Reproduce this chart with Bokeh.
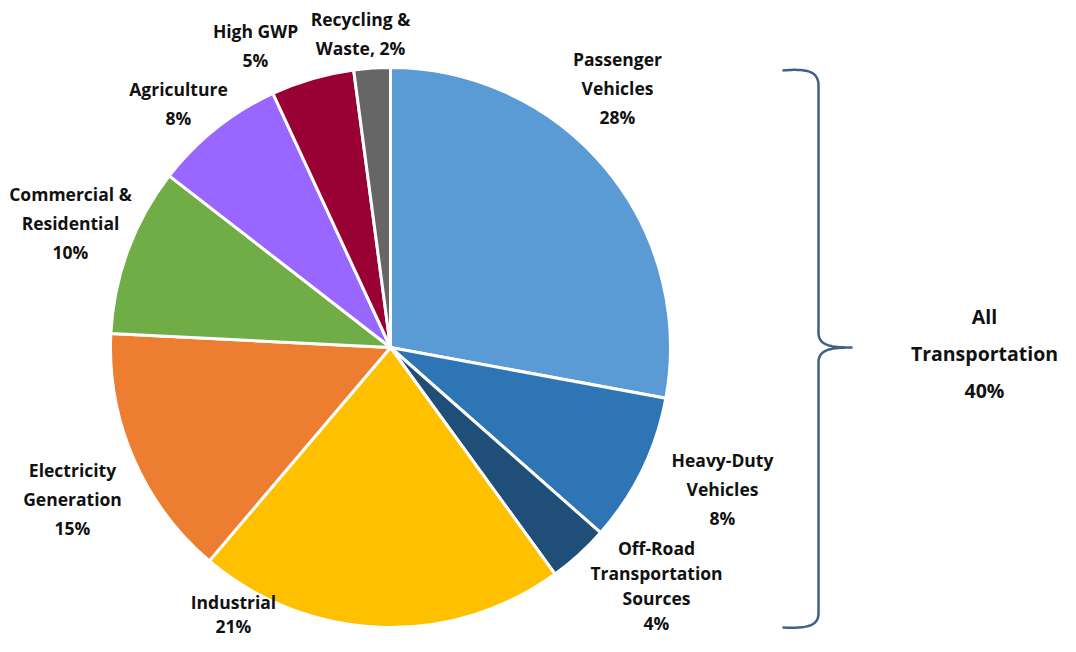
import numpy as np
from bokeh.plotting import figure
from bokeh.models import Range1d, ColumnDataSource
from bokeh.core.properties import value
from bokeh.embed import file_html
from bokeh.resources import INLINE

# ---- data ----
categories = ["Passenger Vehicles", "Heavy-Duty Vehicles", "Off-Road Transportation Sources",
              "Industrial", "Electricity Generation", "Commercial & Residential",
              "Agriculture", "High GWP", "Recycling & Waste"]
shares = [27.9, 8.6, 3.5, 21.2, 14.6, 9.7, 7.6, 4.8, 2.1]
label_texts = ["Passenger\nVehicles\n28%", "Heavy-Duty\nVehicles\n8%",
               "Off-Road\nTransportation\nSources\n4%", "Industrial\n21%",
               "Electricity\nGeneration\n15%", "Commercial &\nResidential\n10%",
               "Agriculture\n8%", "High GWP\n5%", "Recycling &\nWaste, 2%"]
group_label = "All\nTransportation\n40%"

# ---- styling / layout ----
colors = ["#5B9BD5", "#2E75B6", "#1F4E79", "#FFC000", "#ED7D31", "#70AD47",
          "#9966FF", "#990033", "#666666"]
W, H = 1060, 636
def X(sx): return sx
def Y(sy): return H - sy

cx, cy, R = X(390), Y(347), 280
# label anchor (screen px, center of first line) and line spacing
label_pos = [(617, 58), (722, 459), (656, 547), (233, 601), (72, 469),
             (70, 193), (178, 88), (255, 30), (360, 18)]
label_gap = [29, 29, 25, 24, 29, 29, 29, 29, 29]
FONT = "Open Sans"

p = figure(width=W, height=H, x_range=Range1d(0, W), y_range=Range1d(0, H),
           output_backend="svg", toolbar_location=None,
           x_axis_type=None, y_axis_type=None, min_border=0)
p.outline_line_color = None
p.grid.visible = False

tot = float(sum(shares))
cum = np.concatenate([[0], np.cumsum(shares)]) / tot
start = np.pi / 2 - 2 * np.pi * cum[1:]
end = np.pi / 2 - 2 * np.pi * cum[:-1]
src = ColumnDataSource(dict(start=start, end=end, color=colors, cat=categories))
p.wedge(x=cx, y=cy, radius=R, start_angle="start", end_angle="end",
        fill_color="color", line_color="white", line_width=3, source=src)

# labels
tx, ty, tt = [], [], []
for (sx, sy), gap, txt in zip(label_pos, label_gap, label_texts):
    for i, line in enumerate(txt.split("\n")):
        tx.append(X(sx)); ty.append(Y(sy + i * gap)); tt.append(line)
p.text(x=tx, y=ty, text=tt, text_align="center", text_baseline="middle",
       text_font=value(FONT), text_font_style="bold", text_font_size="17.5px",
       text_color="#111111")

# group label
gx, gy, gt = [], [], []
for i, line in enumerate(group_label.split("\n")):
    gx.append(X(984)); gy.append(Y(316 + i * 37)); gt.append(line)
p.text(x=gx, y=gy, text=gt, text_align="center", text_baseline="middle",
       text_font=value(FONT), text_font_style="bold", text_font_size="19.5px",
       text_color="#111111")

# brace (decoration)
def bez(p0, p1, p2, p3, n=30):
    t = np.linspace(0, 1, n)[:, None]
    pts = ((1 - t) ** 3) * np.array(p0) + 3 * ((1 - t) ** 2) * t * np.array(p1) \
        + 3 * (1 - t) * t ** 2 * np.array(p2) + t ** 3 * np.array(p3)
    return pts
segs = [
    bez((782, 70), (805, 68), (818, 70), (818, 85)),
    np.array([(818, 85), (818, 332)]),
    bez((818, 332), (818, 345), (830, 347), (852, 347)),
    bez((852, 347), (830, 347), (818, 349), (818, 362)),
    np.array([(818, 362), (818, 613)]),
    bez((818, 613), (818, 626), (805, 628), (782, 627)),
]
pts = np.vstack(segs)
p.line(x=[X(a) for a in pts[:, 0]], y=[Y(b) for b in pts[:, 1]],
       line_color="#3F6189", line_width=2.5)

open("out.html", "w").write(file_html(p, INLINE))
